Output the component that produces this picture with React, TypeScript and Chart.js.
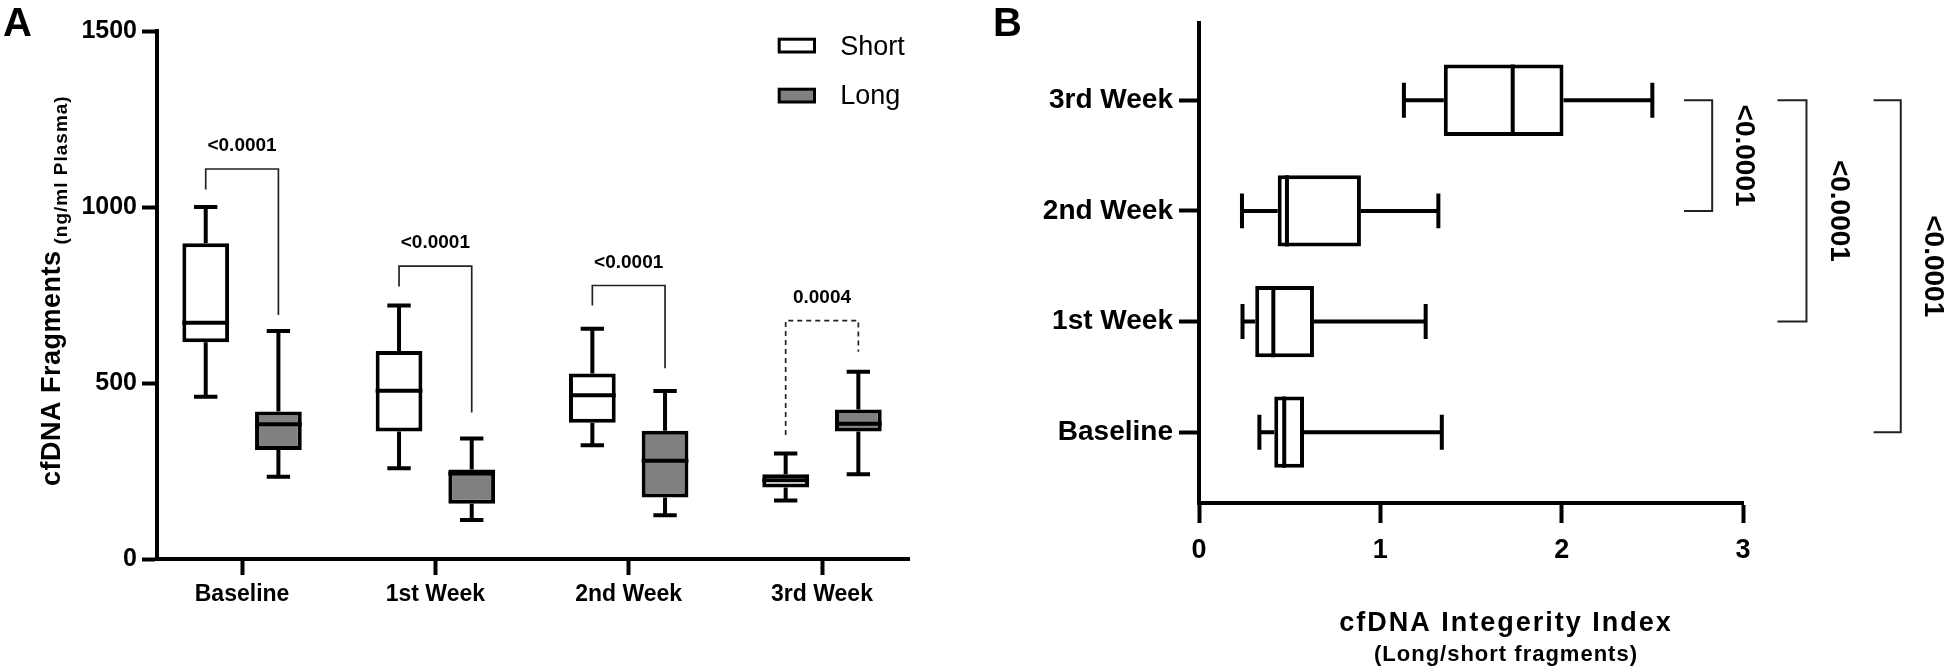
import React, { useEffect, useRef } from "react";
import { Chart, registerables } from "chart.js";

Chart.register(...registerables);

const FONT = "'Liberation Sans', Arial, Helvetica, sans-serif";

// ---------- shared categories ----------
const weeks = ["Baseline", "1st Week", "2nd Week", "3rd Week"];
const weekPositions = [0, 1, 2, 3];

// ---------- Panel A: cfDNA fragments (ng/ml plasma) ----------
const shortMin = [461, 258, 323, 166];
const shortQ1 = [616, 362, 387, 203];
const shortMedian = [671, 478, 465, 224];
const shortQ3 = [897, 591, 527, 241];
const shortMax = [1000, 720, 654, 300];

const longMin = [234, 111, 124, 241];
const longQ1 = [310, 157, 175, 362];
const longMedian = [383, 243, 279, 384];
const longQ3 = [419, 254, 364, 425];
const longMax = [648, 342, 477, 532];

const fragTicks = [0, 500, 1000, 1500];

// significance annotations, panel A (data units)
const pLabelsA = ["<0.0001", "<0.0001", "<0.0001", "0.0004"];
const pTopA = [1108, 832, 777, 677];
const pLeftEndA = [1050, 774, 720, 352];
const pRightEndA = [693, 416, 542, 589];
const pDashedA = [false, false, false, true];

// ---------- Panel B: cfDNA integrity index ----------
const iiMin = [0.333, 0.24, 0.237, 1.13];
const iiQ1 = [0.415, 0.31, 0.434, 1.35];
const iiMedian = [0.47, 0.41, 0.485, 1.73];
const iiQ3 = [0.579, 0.634, 0.893, 2.01];
const iiMax = [1.339, 1.25, 1.32, 2.5];
const indexTicks = [0, 1, 2, 3];

// significance annotations, panel B (category index / data units)
const pLabelsB = ["<0.0001", "<0.0001", "<0.0001"];
const pFromB = [3, 3, 3];
const pToB = [2, 1, 0];
const pArmB = [2.675, 3.19, 3.72];
const pLineB = [2.83, 3.35, 3.87];

const statsA = [
  { min: shortMin, q1: shortQ1, med: shortMedian, q3: shortQ3, max: shortMax },
  { min: longMin, q1: longQ1, med: longMedian, q3: longQ3, max: longMax },
];

const boxPluginA = {
  id: "boxWhiskersA",
  afterDatasetsDraw(chart: any) {
    const ctx = chart.ctx;
    const ys = chart.scales.y;
    ctx.save();
    ctx.strokeStyle = "#000";
    ctx.lineWidth = 4;
    ctx.lineCap = "butt";
    statsA.forEach((s, d) => {
      const meta = chart.getDatasetMeta(d);
      meta.data.forEach((el: any, i: number) => {
        const cx = el.x;
        const w = el.width;
        const cap = w * 0.25;
        const pMax = ys.getPixelForValue(s.max[i]);
        const pMin = ys.getPixelForValue(s.min[i]);
        const pQ1 = ys.getPixelForValue(s.q1[i]);
        const pQ3 = ys.getPixelForValue(s.q3[i]);
        const pMed = ys.getPixelForValue(s.med[i]);
        ctx.beginPath();
        ctx.moveTo(cx, pQ3);
        ctx.lineTo(cx, pMax);
        ctx.moveTo(cx - cap, pMax);
        ctx.lineTo(cx + cap, pMax);
        ctx.moveTo(cx, pQ1);
        ctx.lineTo(cx, pMin);
        ctx.moveTo(cx - cap, pMin);
        ctx.lineTo(cx + cap, pMin);
        ctx.moveTo(cx - w / 2, pMed);
        ctx.lineTo(cx + w / 2, pMed);
        ctx.stroke();
      });
    });
    ctx.restore();
  },
  afterDraw(chart: any) {
    const ctx = chart.ctx;
    const ys = chart.scales.y;
    const area = chart.chartArea;
    const mS = chart.getDatasetMeta(0);
    const mL = chart.getDatasetMeta(1);
    ctx.save();
    // brackets
    for (let i = 0; i < pLabelsA.length; i++) {
      const xl = mS.data[i].x;
      const xr = mL.data[i].x;
      const yt = ys.getPixelForValue(pTopA[i]);
      const yl = ys.getPixelForValue(pLeftEndA[i]);
      const yr = ys.getPixelForValue(pRightEndA[i]);
      ctx.strokeStyle = "#222";
      ctx.lineWidth = 1.7;
      ctx.setLineDash(pDashedA[i] ? [5, 4] : []);
      ctx.beginPath();
      ctx.moveTo(xl, yl);
      ctx.lineTo(xl, yt);
      ctx.lineTo(xr, yt);
      ctx.lineTo(xr, yr);
      ctx.stroke();
      ctx.setLineDash([]);
      ctx.fillStyle = "#000";
      ctx.font = `bold 19px ${FONT}`;
      ctx.textAlign = "center";
      ctx.textBaseline = "middle";
      ctx.fillText(pLabelsA[i], (xl + xr) / 2, yt - 23);
    }
    // legend
    const lx = area.right - 129.8;
    ctx.lineWidth = 3;
    ctx.strokeStyle = "#000";
    ctx.fillStyle = "#fff";
    ctx.fillRect(lx, 39.2, 35.3, 12.8);
    ctx.strokeRect(lx, 39.2, 35.3, 12.8);
    ctx.fillStyle = "#808080";
    ctx.fillRect(lx, 89.2, 35.3, 12.8);
    ctx.strokeRect(lx, 89.2, 35.3, 12.8);
    ctx.fillStyle = "#000";
    ctx.font = `27px ${FONT}`;
    ctx.textAlign = "left";
    ctx.textBaseline = "alphabetic";
    ctx.fillText("Short", lx + 61, 55);
    ctx.fillText("Long", lx + 61, 104);
    // panel letter
    ctx.font = `bold 40px ${FONT}`;
    ctx.fillText("A", 3, 36);
    // y title
    ctx.save();
    ctx.translate(60, 486);
    ctx.rotate(-Math.PI / 2);
    ctx.font = `bold 27px ${FONT}`;
    (ctx as any).letterSpacing = "0.5px";
    const big = "cfDNA Fragments";
    const wBig = ctx.measureText(big).width;
    ctx.fillText(big, 0, 0);
    ctx.font = `bold 19px ${FONT}`;
    (ctx as any).letterSpacing = "1px";
    ctx.fillText("(ng/ml Plasma)", wBig + 6, 7);
    (ctx as any).letterSpacing = "0px";
    ctx.restore();
    ctx.restore();
  },
};

const boxPluginB = {
  id: "boxWhiskersB",
  afterDatasetsDraw(chart: any) {
    const ctx = chart.ctx;
    const xs = chart.scales.x;
    ctx.save();
    ctx.strokeStyle = "#000";
    ctx.lineWidth = 4;
    ctx.lineCap = "butt";
    const meta = chart.getDatasetMeta(0);
    meta.data.forEach((el: any, i: number) => {
      const cy = el.y;
      const h = el.height;
      const cap = h * 0.245;
      const pMax = xs.getPixelForValue(iiMax[i]);
      const pMin = xs.getPixelForValue(iiMin[i]);
      const pQ1 = xs.getPixelForValue(iiQ1[i]);
      const pQ3 = xs.getPixelForValue(iiQ3[i]);
      const pMed = xs.getPixelForValue(iiMedian[i]);
      ctx.beginPath();
      ctx.moveTo(pQ3, cy);
      ctx.lineTo(pMax, cy);
      ctx.moveTo(pMax, cy - cap);
      ctx.lineTo(pMax, cy + cap);
      ctx.moveTo(pQ1, cy);
      ctx.lineTo(pMin, cy);
      ctx.moveTo(pMin, cy - cap);
      ctx.lineTo(pMin, cy + cap);
      ctx.moveTo(pMed, cy - h / 2);
      ctx.lineTo(pMed, cy + h / 2);
      ctx.stroke();
    });
    ctx.restore();
  },
  afterDraw(chart: any) {
    const ctx = chart.ctx;
    const xs = chart.scales.x;
    const ys = chart.scales.y;
    ctx.save();
    for (let i = 0; i < pLabelsB.length; i++) {
      const y1 = ys.getPixelForValue(pFromB[i]);
      const y2 = ys.getPixelForValue(pToB[i]);
      const xa = xs.getPixelForValue(pArmB[i]);
      const xv = xs.getPixelForValue(pLineB[i]);
      ctx.strokeStyle = "#222";
      ctx.lineWidth = 2;
      ctx.beginPath();
      ctx.moveTo(xa, y1);
      ctx.lineTo(xv, y1);
      ctx.lineTo(xv, y2);
      ctx.lineTo(xa, y2);
      ctx.stroke();
      ctx.save();
      ctx.translate(xv + 32, (y1 + y2) / 2);
      ctx.rotate(Math.PI / 2);
      ctx.fillStyle = "#000";
      ctx.font = `bold 28px ${FONT}`;
      ctx.textAlign = "center";
      ctx.textBaseline = "middle";
      ctx.fillText(pLabelsB[i], 0, 0);
      ctx.restore();
    }
    // axis title
    const area = chart.chartArea;
    const cx = (area.left + area.right) / 2 + 35;
    ctx.fillStyle = "#000";
    ctx.textAlign = "center";
    ctx.textBaseline = "middle";
    ctx.font = `bold 27px ${FONT}`;
    (ctx as any).letterSpacing = "2px";
    ctx.fillText("cfDNA Integerity Index", cx, 624);
    ctx.font = `bold 22px ${FONT}`;
    (ctx as any).letterSpacing = "1px";
    ctx.fillText("(Long/short fragments)", cx, 655);
    (ctx as any).letterSpacing = "0px";
    // panel letter
    ctx.textAlign = "left";
    ctx.textBaseline = "alphabetic";
    ctx.font = `bold 40px ${FONT}`;
    ctx.fillText("B", 18, 36);
    ctx.restore();
  },
};

const axisCommon = (size: number, tickLength: number, padding: number) => ({
  ticks: {
    font: { family: FONT, size, weight: "bold" as const },
    color: "#000",
    padding,
    autoSkip: false,
    maxRotation: 0,
  },
  grid: {
    drawOnChartArea: false,
    drawTicks: true,
    tickLength,
    tickWidth: 4,
    tickColor: "#000",
    offset: false,
  },
  border: { display: true, color: "#000", width: 4 },
});

function App() {
  const refA = useRef<HTMLCanvasElement>(null);
  const refB = useRef<HTMLCanvasElement>(null);

  useEffect(() => {
    const cA = axisCommon(23, 16, 6);
    const cAy = axisCommon(25, 15, 5);
    const chartA = new Chart(refA.current as HTMLCanvasElement, {
      type: "bar",
      data: {
        datasets: [
          {
            label: "Short",
            data: weekPositions.map((p, i) => ({ x: p, y: [shortQ1[i], shortQ3[i]] })) as any,
            backgroundColor: "#ffffff",
            borderColor: "#000",
            borderWidth: 4,
            borderSkipped: false,
            categoryPercentage: 0.752,
            barPercentage: 0.643,
          },
          {
            label: "Long",
            data: weekPositions.map((p, i) => ({ x: p, y: [longQ1[i], longQ3[i]] })) as any,
            backgroundColor: "#808080",
            borderColor: "#000",
            borderWidth: 4,
            borderSkipped: false,
            categoryPercentage: 0.752,
            barPercentage: 0.643,
          },
        ],
      },
      options: {
        responsive: false,
        animation: false,
        events: [],
        layout: { padding: { left: 0, right: 66, top: 31, bottom: 0 } },
        plugins: { legend: { display: false }, tooltip: { enabled: false } },
        scales: {
          x: {
            type: "linear",
            min: -0.44,
            max: 3.45,
            offset: false,
            afterBuildTicks: (s: any) => {
              s.ticks = weekPositions.map((v) => ({ value: v }));
            },
            afterFit: (s: any) => {
              s.height = 112;
            },
            ...cA,
            ticks: { ...cA.ticks, callback: (v: any) => weeks[v] ?? "" },
          },
          y: {
            type: "linear",
            min: 0,
            max: 1500,
            afterBuildTicks: (s: any) => {
              s.ticks = fragTicks.map((v) => ({ value: v }));
            },
            afterFit: (s: any) => {
              s.width = 157;
            },
            ...cAy,
            ticks: { ...cAy.ticks, callback: (v: any) => String(v) },
          },
        } as any,
      },
      plugins: [boxPluginA],
    });

    const cBx = axisCommon(27, 20, 11);
    const cBy = axisCommon(28, 20, 6);
    const chartB = new Chart(refB.current as HTMLCanvasElement, {
      type: "bar",
      data: {
        datasets: [
          {
            label: "Integrity index",
            data: weekPositions.map((p, i) => ({ y: p, x: [iiQ1[i], iiQ3[i]] })) as any,
            backgroundColor: "#ffffff",
            borderColor: "#000",
            borderWidth: 4,
            borderSkipped: false,
            categoryPercentage: 1,
            barPercentage: 0.644,
          },
        ],
      },
      options: {
        indexAxis: "y",
        responsive: false,
        animation: false,
        events: [],
        layout: { padding: { left: 0, right: 201, top: 20, bottom: 0 } },
        plugins: { legend: { display: false }, tooltip: { enabled: false } },
        scales: {
          x: {
            type: "linear",
            min: 0,
            max: 3,
            afterBuildTicks: (s: any) => {
              s.ticks = indexTicks.map((v) => ({ value: v }));
            },
            afterFit: (s: any) => {
              s.height = 168;
            },
            ...cBx,
            ticks: { ...cBx.ticks, callback: (v: any) => String(v) },
          },
          y: {
            type: "linear",
            min: -0.64,
            max: 3.7,
            offset: false,
            afterBuildTicks: (s: any) => {
              s.ticks = weekPositions.map((v) => ({ value: v }));
            },
            afterFit: (s: any) => {
              s.width = 224;
            },
            ...cBy,
            ticks: { ...cBy.ticks, callback: (v: any) => weeks[v] ?? "" },
          },
        } as any,
      },
      plugins: [boxPluginB],
    });

    return () => {
      chartA.destroy();
      chartB.destroy();
    };
  }, []);

  return (
    <div
      style={{
        position: "absolute",
        left: 0,
        top: 0,
        width: 1944,
        height: 671,
        background: "#fff",
        overflow: "hidden",
      }}
    >
      <canvas
        ref={refA}
        width={975}
        height={671}
        style={{ position: "absolute", left: 0, top: 0, width: 975, height: 671 }}
      />
      <canvas
        ref={refB}
        width={969}
        height={671}
        style={{ position: "absolute", left: 975, top: 0, width: 969, height: 671 }}
      />
    </div>
  );
}

export default App;
